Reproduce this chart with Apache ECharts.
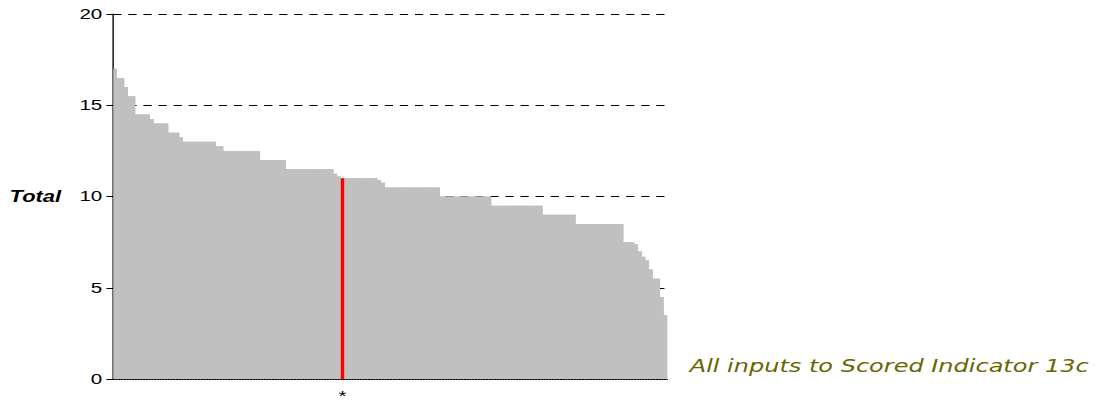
<!DOCTYPE html>
<html>
<head>
<meta charset="utf-8">
<script src="https://cdn.jsdelivr.net/npm/echarts@6/dist/echarts.min.js"></script>
<style>
    html, body { margin: 0; padding: 0; background: #fff; overflow: hidden; }
    /* the original picture is an 800px chart stretched to the page width */
    #chartBox { width: 800px; height: 408px; transform: scaleX(1.37125); transform-origin: 0 0; }
</style>
</head>
<body>
<div id="chartBox"></div>
<script>
// scores, sorted high to low (one bar each)
var totals = [
    17,
    16.5, 16.5,
    16,
    15.5, 15.5,
    14.5, 14.5, 14.5, 14.5,
    14.25,
    14, 14, 14, 14,
    13.5, 13.5, 13.5,
    13.25,
    13, 13, 13, 13, 13, 13, 13, 13, 13,
    12.75, 12.75,
    12.5, 12.5, 12.5, 12.5, 12.5, 12.5, 12.5, 12.5, 12.5, 12.5,
    12, 12, 12, 12, 12, 12, 12,
    11.5, 11.5, 11.5, 11.5, 11.5, 11.5, 11.5, 11.5, 11.5, 11.5, 11.5, 11.5, 11.5,
    11.25,
    11.1,
    11,
    11, 11, 11, 11, 11, 11, 11, 11, 11,
    10.9, 10.75,
    10.5, 10.5, 10.5, 10.5, 10.5, 10.5, 10.5, 10.5, 10.5, 10.5, 10.5, 10.5, 10.5, 10.5, 10.5,
    10, 10, 10, 10, 10, 10, 10, 10, 10, 10, 10, 10, 10, 10,
    9.5, 9.5, 9.5, 9.5, 9.5, 9.5, 9.5, 9.5, 9.5, 9.5, 9.5, 9.5, 9.5, 9.5,
    9, 9, 9, 9, 9, 9, 9, 9, 9,
    8.5, 8.5, 8.5, 8.5, 8.5, 8.5, 8.5, 8.5, 8.5, 8.5, 8.5, 8.5, 8.5,
    7.5, 7.5, 7.5,
    7.4,
    7,
    6.7,
    6.5,
    6,
    5.5, 5.5,
    4.5,
    3.5
];
// the highlighted bar (marked with * under the axis)
var markIndex = 62;
var markLabel = '*';
var yTicks = [0, 5, 10, 15, 20];

var myChart = echarts.init(document.getElementById('chartBox'), null, { renderer: 'svg' });

var barData = totals.map(function (v, i) {
    if (i === markIndex) {
        return { value: v, itemStyle: { color: '#ff0000' } };
    }
    return v;
});

var option = {
    animation: false,
    title: {
        text: 'All inputs to Scored Indicator 13c',
        left: 503,
        top: 357,
        padding: 0,
        textStyle: {
            fontFamily: 'DejaVu Sans',
            fontStyle: 'italic',
            fontWeight: 'normal',
            fontSize: 17.5,
            color: '#666600'
        }
    },
    grid: { left: 82.6, right: 313.3, top: 14, bottom: 29, containLabel: false },
    xAxis: {
        type: 'category',
        boundaryGap: true,
        axisLine: { lineStyle: { color: '#000', width: 1, type: 'dotted' } },
        axisTick: { show: false },
        axisLabel: {
            interval: 0,
            margin: 9,
            fontFamily: 'Liberation Sans',
            fontSize: 15,
            color: '#000',
            formatter: function (val, idx) {
                return idx === markIndex ? markLabel : '';
            }
        },
        splitLine: { show: false }
    },
    yAxis: {
        type: 'value',
        min: yTicks[0],
        max: yTicks[yTicks.length - 1],
        interval: yTicks[1] - yTicks[0],
        name: 'Total',
        nameLocation: 'middle',
        nameRotate: 0,
        nameGap: 38,
        nameTextStyle: {
            fontFamily: 'Liberation Sans',
            fontStyle: 'italic',
            fontWeight: 'bold',
            fontSize: 16,
            color: '#000',
            padding: [7, 0, 0, 0]
        },
        axisLine: { show: true, lineStyle: { color: '#000', width: 1 } },
        axisTick: { show: true, length: 5, lineStyle: { color: '#000' } },
        axisLabel: { margin: 8, fontFamily: 'Liberation Sans', fontSize: 15, color: '#000' },
        splitLine: {
            show: true,
            showMinLine: false,
            lineStyle: { color: '#000', width: 1, type: [6, 5] }
        }
    },
    series: [
        {
            // same values as a stepped grey area under the bars,
            // so the anti-aliased edges between neighbouring bars don't show white seams
            type: 'line',
            data: totals,
            step: 'middle',
            showSymbol: false,
            silent: true,
            z: 1,
            lineStyle: { width: 0 },
            areaStyle: { color: '#c0c0c0', opacity: 1 }
        },
        {
            type: 'bar',
            data: barData,
            barCategoryGap: '0%',
            barGap: '0%',
            z: 2,
            itemStyle: { color: '#c0c0c0' }
        }
    ]
};
option && myChart.setOption(option);
</script>
</body>
</html>
